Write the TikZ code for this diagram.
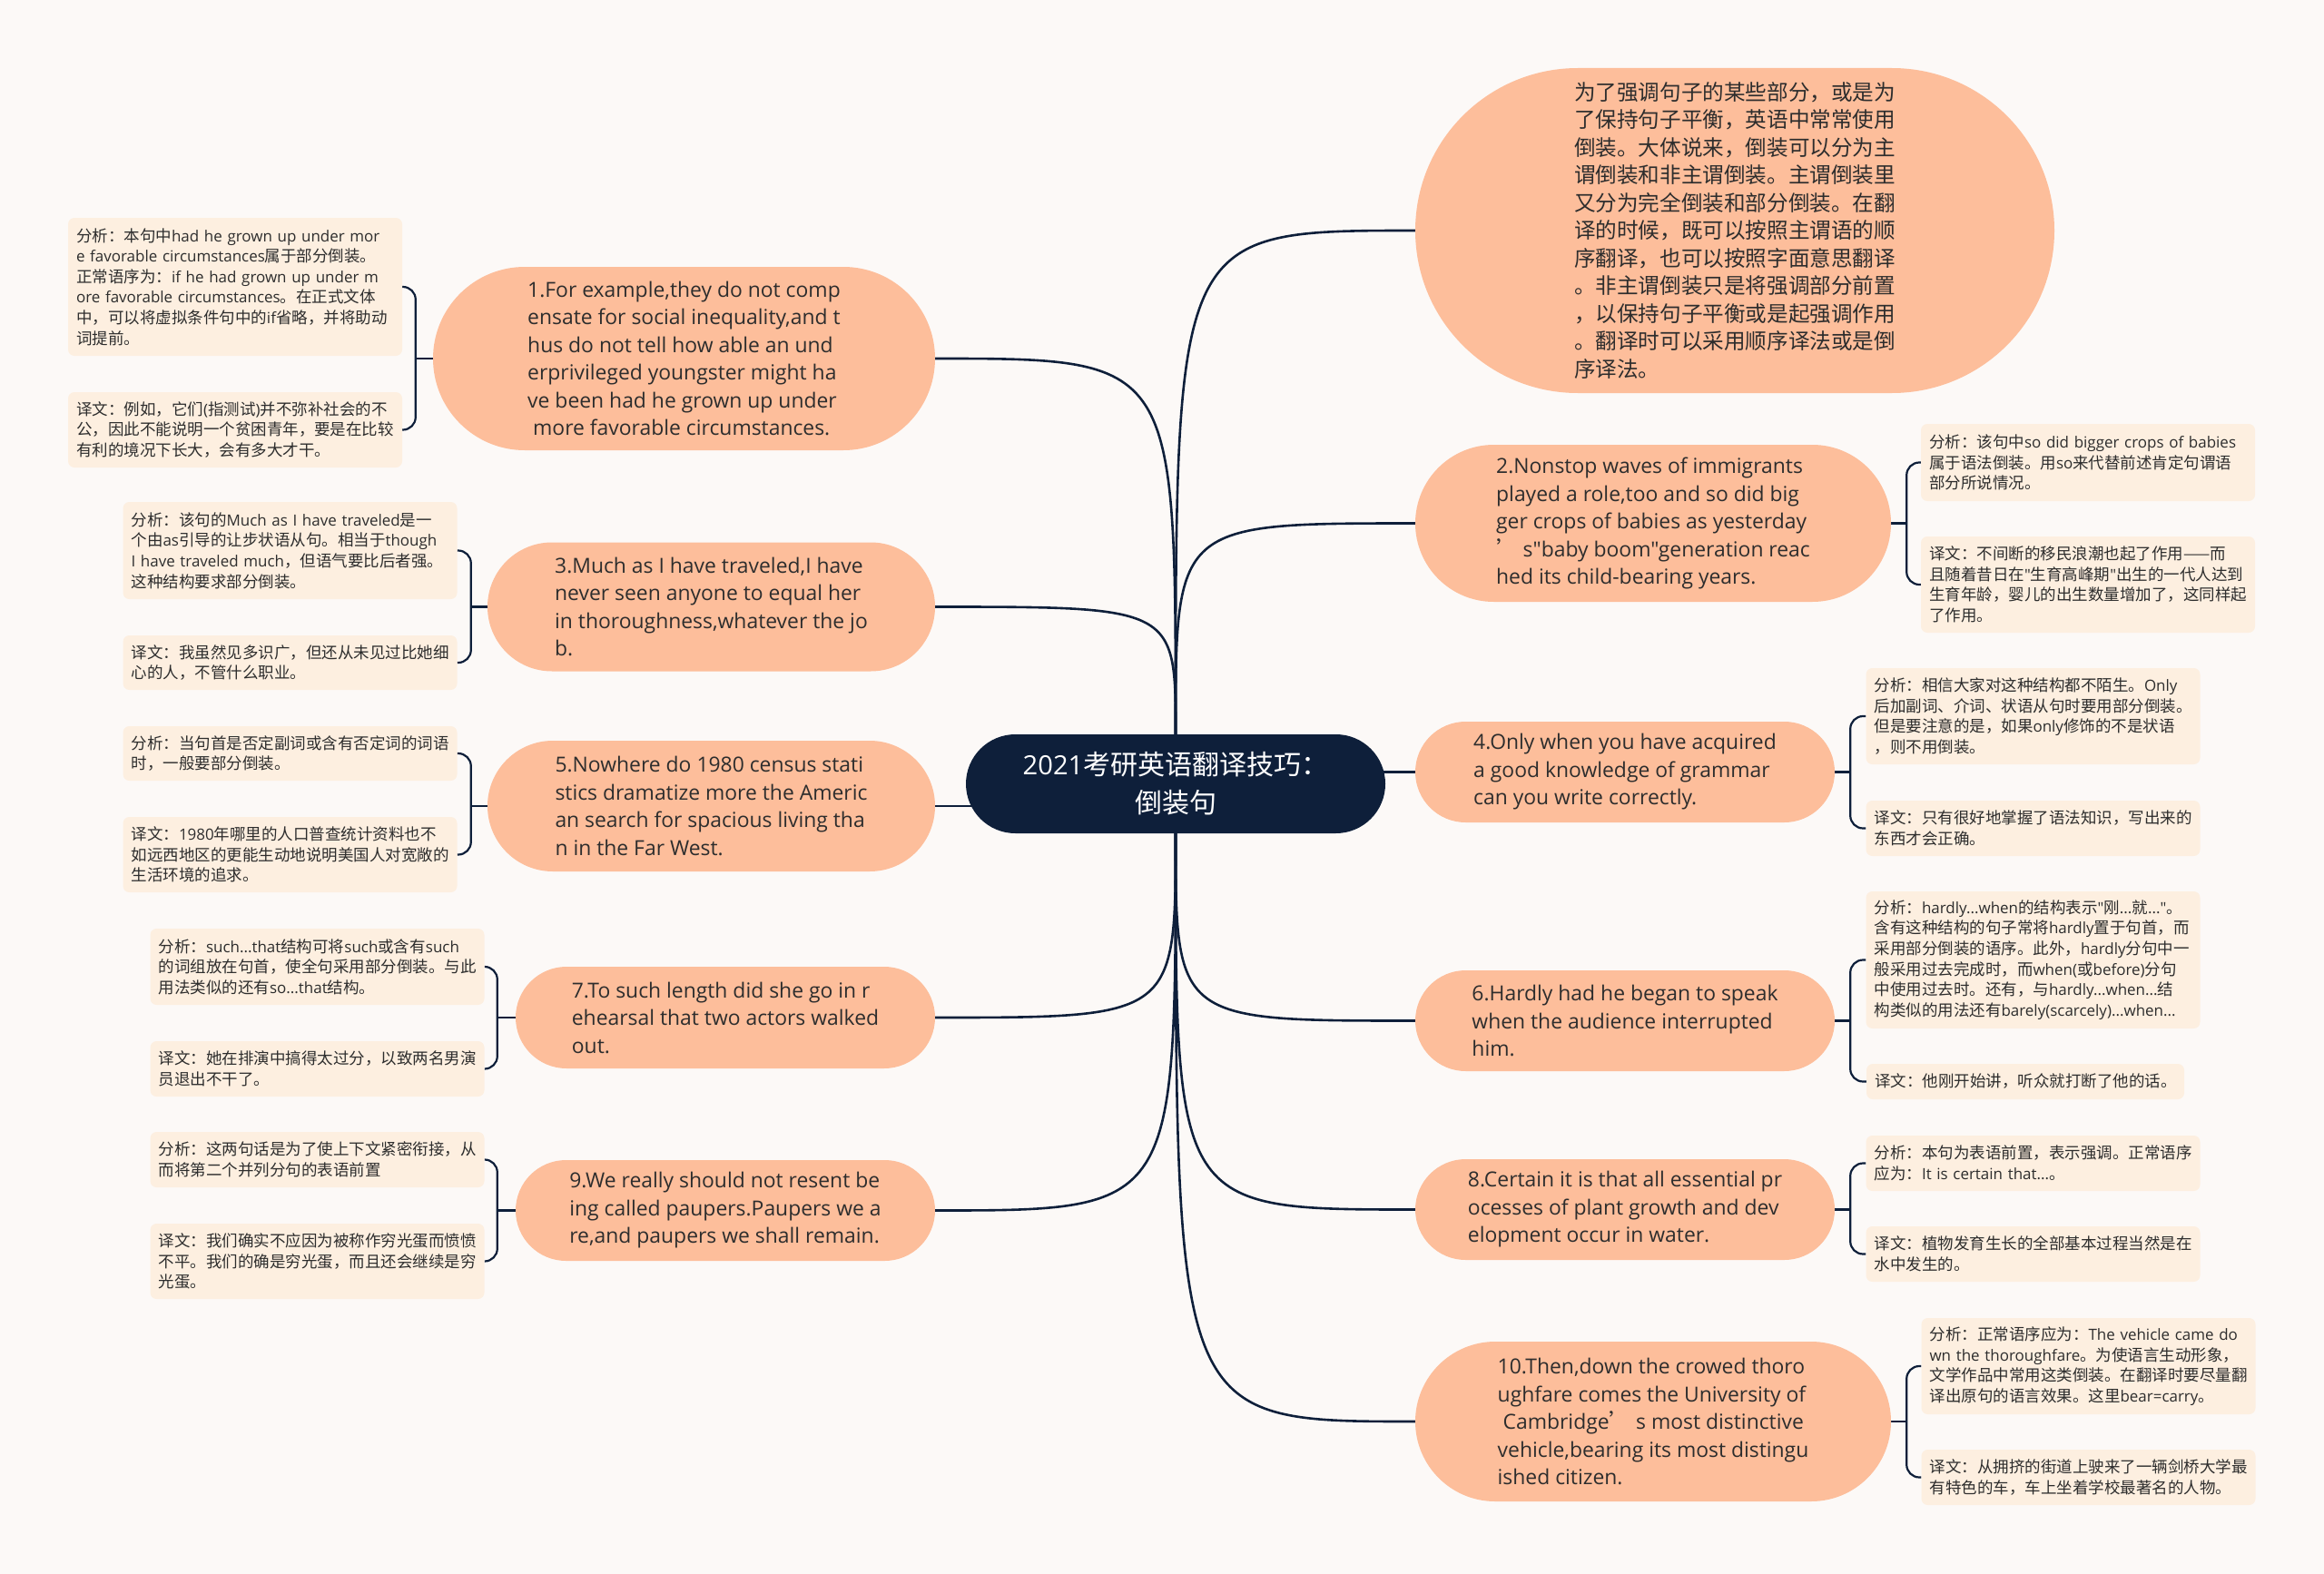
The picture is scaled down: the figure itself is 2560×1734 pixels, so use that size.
\documentclass[tikz,border=0pt]{standalone}
\usepackage{fontspec}
\newfontfamily\latinfont{Open Sans}[Scale=0.97]
\newfontfamily\cjkfont{Noto Sans CJK SC}
\usetikzlibrary{backgrounds}
% automatic switch to the CJK font for CJK characters
\newcount\cjkc
\def\setcjkrange#1#2{\cjkc=#1\relax\loop\XeTeXcharclass\cjkc=11\relax\advance\cjkc by 1\relax\ifnum\cjkc<#2\relax\repeat}
\setcjkrange{"3000}{"3040}
\setcjkrange{"4E00}{"A000}
\setcjkrange{"FF00}{"FFF0}
\XeTeXcharclass"2014=11
\XeTeXcharclass"2019=11
\newcount\cjkk
\cjkk=0
\loop
\XeTeXinterchartoks\cjkk 11 = {\begingroup\cjkfont}
\XeTeXinterchartoks 11 \cjkk = {\endgroup}
\advance\cjkk by 1
\ifnum\cjkk<11 \repeat
\XeTeXinterchartoks 4095 11 = {\begingroup\cjkfont}
\XeTeXinterchartoks 11 4095 = {\endgroup}
\XeTeXinterchartokenstate=1

\definecolor{bgcol}{RGB}{252,249,247}
\definecolor{mainfill}{RGB}{253,190,155}
\definecolor{leaffill}{RGB}{253,239,224}
\definecolor{navy}{RGB}{14,31,58}
\definecolor{txt}{RGB}{45,45,45}
\newcommand\mainsz{\latinfont\fontsize{23.6pt}{30.5pt}\selectfont\lineskiplimit=-100pt}
\newcommand\leafsz{\latinfont\fontsize{17.5pt}{22.6pt}\selectfont\lineskiplimit=-100pt}
\newcommand\centersz{\latinfont\fontsize{30pt}{42pt}\selectfont\lineskiplimit=-100pt}
\tikzset{
  mainbox/.style={fill=mainfill, text=txt, font=\mainsz, align=left, inner sep=0pt},
  leafbox/.style={fill=leaffill, text=txt, font=\leafsz, rounded corners=7pt, text width=350pt, inner xsep=9pt, inner ysep=0pt, align=left},
  centerbox/.style={fill=navy, text=white, font=\centersz, align=center, inner sep=0pt},
  link/.style={draw=navy, line width=2.6pt},
  bracket/.style={draw=navy, line width=2.2pt, rounded corners=14pt},
}
\begin{document}
\begin{tikzpicture}[x=1pt,y=-1pt]
\path[use as bounding box] (0,0) rectangle (2560,1734);

% centre
\node[centerbox, minimum width=462pt, minimum height=109pt, rounded corners=54.5pt] (c) at (1295,863.5) {2021考研英语翻译技巧：\\倒装句};

% main nodes, left
\node[mainbox, minimum width=553pt, minimum height=202pt, rounded corners=101pt] (n1) at (753.5,395) {1.For example,they do not comp\\ensate for social inequality,and t\\hus do not tell how able an und\\erprivileged youngster might ha\\ve been had he grown up under\\~more favorable circumstances.};
\node[mainbox, minimum width=493pt, minimum height=142pt, rounded corners=71pt] (n3) at (783.5,668.5) {3.Much as I have traveled,I have\\never seen anyone to equal her\\in thoroughness,whatever the jo\\b.};
\node[mainbox, minimum width=493pt, minimum height=144pt, rounded corners=72pt] (n5) at (783.5,888) {5.Nowhere do 1980 census stati\\stics dramatize more the Americ\\an search for spacious living tha\\n in the Far West.};
\node[mainbox, minimum width=462pt, minimum height=112pt, rounded corners=56pt] (n7) at (799,1121) {7.To such length did she go in r\\ehearsal that two actors walked\\out.};
\node[mainbox, minimum width=462pt, minimum height=111pt, rounded corners=55.5pt] (n9) at (799,1333.5) {9.We really should not resent be\\ing called paupers.Paupers we a\\re,and paupers we shall remain.};

% main nodes, right
\node[mainbox, minimum width=704pt, minimum height=358pt, rounded corners=179pt] (nT) at (1911,254) {为了强调句子的某些部分，或是为\\了保持句子平衡，英语中常常使用\\倒装。大体说来，倒装可以分为主\\谓倒装和非主谓倒装。主谓倒装里\\又分为完全倒装和部分倒装。在翻\\译的时候，既可以按照主谓语的顺\\序翻译，也可以按照字面意思翻译\\。非主谓倒装只是将强调部分前置\\，以保持句子平衡或是起强调作用\\。翻译时可以采用顺序译法或是倒\\序译法。};
\node[mainbox, minimum width=524pt, minimum height=173pt, rounded corners=86.5pt] (n2) at (1821,576.5) {2.Nonstop waves of immigrants\\played a role,too and so did big\\ger crops of babies as yesterday\\’ s"baby boom"generation reac\\hed its child-bearing years.};
\node[mainbox, minimum width=462pt, minimum height=111pt, rounded corners=55.5pt] (n4) at (1790,850.5) {4.Only when you have acquired\\a good knowledge of grammar\\can you write correctly.};
\node[mainbox, minimum width=462pt, minimum height=111pt, rounded corners=55.5pt] (n6) at (1790,1124.5) {6.Hardly had he began to speak\\when the audience interrupted\\him.};
\node[mainbox, minimum width=462pt, minimum height=111pt, rounded corners=55.5pt] (n8) at (1790,1332.5) {8.Certain it is that all essential pr\\ocesses of plant growth and dev\\elopment occur in water.};
\node[mainbox, minimum width=524pt, minimum height=176pt, rounded corners=88pt] (n10) at (1821,1566) {10.Then,down the crowed thoro\\ughfare comes the University of\\~Cambridge’ s most distinctive\\vehicle,bearing its most distingu\\ished citizen.};

% leaves, left
\node[leafbox, minimum height=152pt] (l1a) at (259,316) {分析：本句中had he grown up under mor\\e favorable circumstances属于部分倒装。\\正常语序为：if he had grown up under m\\ore favorable circumstances。在正式文体\\中，可以将虚拟条件句中的if省略，并将助动\\词提前。};
\node[leafbox, minimum height=83pt] (l1b) at (259,473.5) {译文：例如，它们(指测试)并不弥补社会的不\\公，因此不能说明一个贫困青年，要是在比较\\有利的境况下长大，会有多大才干。};
\node[leafbox, minimum height=107pt] (l3a) at (319.5,606.5) {分析：该句的Much as I have traveled是一\\个由as引导的让步状语从句。相当于though\\I have traveled much，但语气要比后者强。\\这种结构要求部分倒装。};
\node[leafbox, minimum height=60pt] (l3b) at (319.5,730) {译文：我虽然见多识广，但还从未见过比她细\\心的人，不管什么职业。};
\node[leafbox, minimum height=60pt] (l5a) at (319.5,830) {分析：当句首是否定副词或含有否定词的词语\\时，一般要部分倒装。};
\node[leafbox, minimum height=83pt] (l5b) at (319.5,941.5) {译文：1980年哪里的人口普查统计资料也不\\如远西地区的更能生动地说明美国人对宽敞的\\生活环境的追求。};
\node[leafbox, minimum height=84pt] (l7a) at (349.5,1065) {分析：such...that结构可将such或含有such\\的词组放在句首，使全句采用部分倒装。与此\\用法类似的还有so...that结构。};
\node[leafbox, minimum height=61pt] (l7b) at (349.5,1177.5) {译文：她在排演中搞得太过分，以致两名男演\\员退出不干了。};
\node[leafbox, minimum height=61pt] (l9a) at (349.5,1277.5) {分析：这两句话是为了使上下文紧密衔接，从\\而将第二个并列分句的表语前置};
\node[leafbox, minimum height=83pt] (l9b) at (349.5,1389.5) {译文：我们确实不应因为被称作穷光蛋而愤愤\\不平。我们的确是穷光蛋，而且还会继续是穷\\光蛋。};

% leaves, right
\node[leafbox, minimum height=85pt] (r2a) at (2300,509.5) {分析：该句中so did bigger crops of babies\\属于语法倒装。用so来代替前述肯定句谓语\\部分所说情况。};
\node[leafbox, minimum height=106pt] (r2b) at (2300,644) {译文：不间断的移民浪潮也起了作用——而\\且随着昔日在"生育高峰期"出生的一代人达到\\生育年龄，婴儿的出生数量增加了，这同样起\\了作用。};
\node[leafbox, minimum height=106pt] (r4a) at (2239.5,789) {分析：相信大家对这种结构都不陌生。Only\\后加副词、介词、状语从句时要用部分倒装。\\但是要注意的是，如果only修饰的不是状语\\，则不用倒装。};
\node[leafbox, minimum height=61pt] (r4b) at (2239.5,912.5) {译文：只有很好地掌握了语法知识，写出来的\\东西才会正确。};
\node[leafbox, minimum height=151pt] (r6a) at (2239.5,1057.5) {分析：hardly...when的结构表示"刚...就..."。\\含有这种结构的句子常将hardly置于句首，而\\采用部分倒装的语序。此外，hardly分句中一\\般采用过去完成时，而when(或before)分句\\中使用过去时。还有，与hardly...when...结\\构类似的用法还有barely(scarcely)...when...};
\node[leafbox, text width=332pt, minimum height=39pt] (r6b) at (2231,1191.5) {译文：他刚开始讲，听众就打断了他的话。};
\node[leafbox, minimum height=61pt] (r8a) at (2239.5,1281.5) {分析：本句为表语前置，表示强调。正常语序\\应为：It is certain that...。};
\node[leafbox, minimum height=61pt] (r8b) at (2239.5,1381.5) {译文：植物发育生长的全部基本过程当然是在\\水中发生的。};
\node[leafbox, minimum height=106pt] (r10a) at (2300.5,1505) {分析：正常语序应为：The vehicle came do\\wn the thoroughfare。为使语言生动形象，\\文学作品中常用这类倒装。在翻译时要尽量翻\\译出原句的语言效果。这里bear=carry。};
\node[leafbox, minimum height=61pt] (r10b) at (2300.5,1627.5) {译文：从拥挤的街道上驶来了一辆剑桥大学最\\有特色的车，车上坐着学校最著名的人物。};

\begin{scope}[on background layer]
\fill[bgcol] (0,0) rectangle (2560,1734);
% centre to main nodes
\foreach \t in {nT,n2}
  \draw[link] (c.north) .. controls (c.north |- \t.west) and (c.north |- \t.west) .. (\t.west);
\foreach \t in {n1,n3}
  \draw[link] (c.north) .. controls (c.north |- \t.east) and (c.north |- \t.east) .. (\t.east);
\foreach \t in {n6,n8,n10}
  \draw[link] (c.south) .. controls (c.south |- \t.west) and (c.south |- \t.west) .. (\t.west);
\foreach \t in {n7,n9}
  \draw[link] (c.south) .. controls (c.south |- \t.east) and (c.south |- \t.east) .. (\t.east);
\draw[link] (c.center |- n4.west) -- (n4.west);
\draw[link] (n5.east) -- (c.center |- n5.east);
% brackets, left
\draw[bracket] (l1a.east) -| ([xshift=-19pt]n1.west) |- (l1b.east);
\draw[link, line width=2.2pt] (n1.west) -- ([xshift=-19pt]n1.west);
\draw[bracket] (l3a.east) -| ([xshift=-18pt]n3.west) |- (l3b.east);
\draw[link, line width=2.2pt] (n3.west) -- ([xshift=-18pt]n3.west);
\draw[bracket] (l5a.east) -| ([xshift=-18pt]n5.west) |- (l5b.east);
\draw[link, line width=2.2pt] (n5.west) -- ([xshift=-18pt]n5.west);
\draw[bracket] (l7a.east) -| ([xshift=-20pt]n7.west) |- (l7b.east);
\draw[link, line width=2.2pt] (n7.west) -- ([xshift=-20pt]n7.west);
\draw[bracket] (l9a.east) -| ([xshift=-20pt]n9.west) |- (l9b.east);
\draw[link, line width=2.2pt] (n9.west) -- ([xshift=-20pt]n9.west);
% brackets, right
\draw[bracket] (r2a.west) -| ([xshift=17pt]n2.east) |- (r2b.west);
\draw[link, line width=2.2pt] (n2.east) -- ([xshift=17pt]n2.east);
\draw[bracket] (r4a.west) -| ([xshift=17pt]n4.east) |- (r4b.west);
\draw[link, line width=2.2pt] (n4.east) -- ([xshift=17pt]n4.east);
\draw[bracket] (r6a.west) -| ([xshift=17pt]n6.east) |- (r6b.west);
\draw[link, line width=2.2pt] (n6.east) -- ([xshift=17pt]n6.east);
\draw[bracket] (r8a.west) -| ([xshift=17pt]n8.east) |- (r8b.west);
\draw[link, line width=2.2pt] (n8.east) -- ([xshift=17pt]n8.east);
\draw[bracket] (r10a.west) -| ([xshift=17pt]n10.east) |- (r10b.west);
\draw[link, line width=2.2pt] (n10.east) -- ([xshift=17pt]n10.east);
\end{scope}
\end{tikzpicture}
\end{document}
